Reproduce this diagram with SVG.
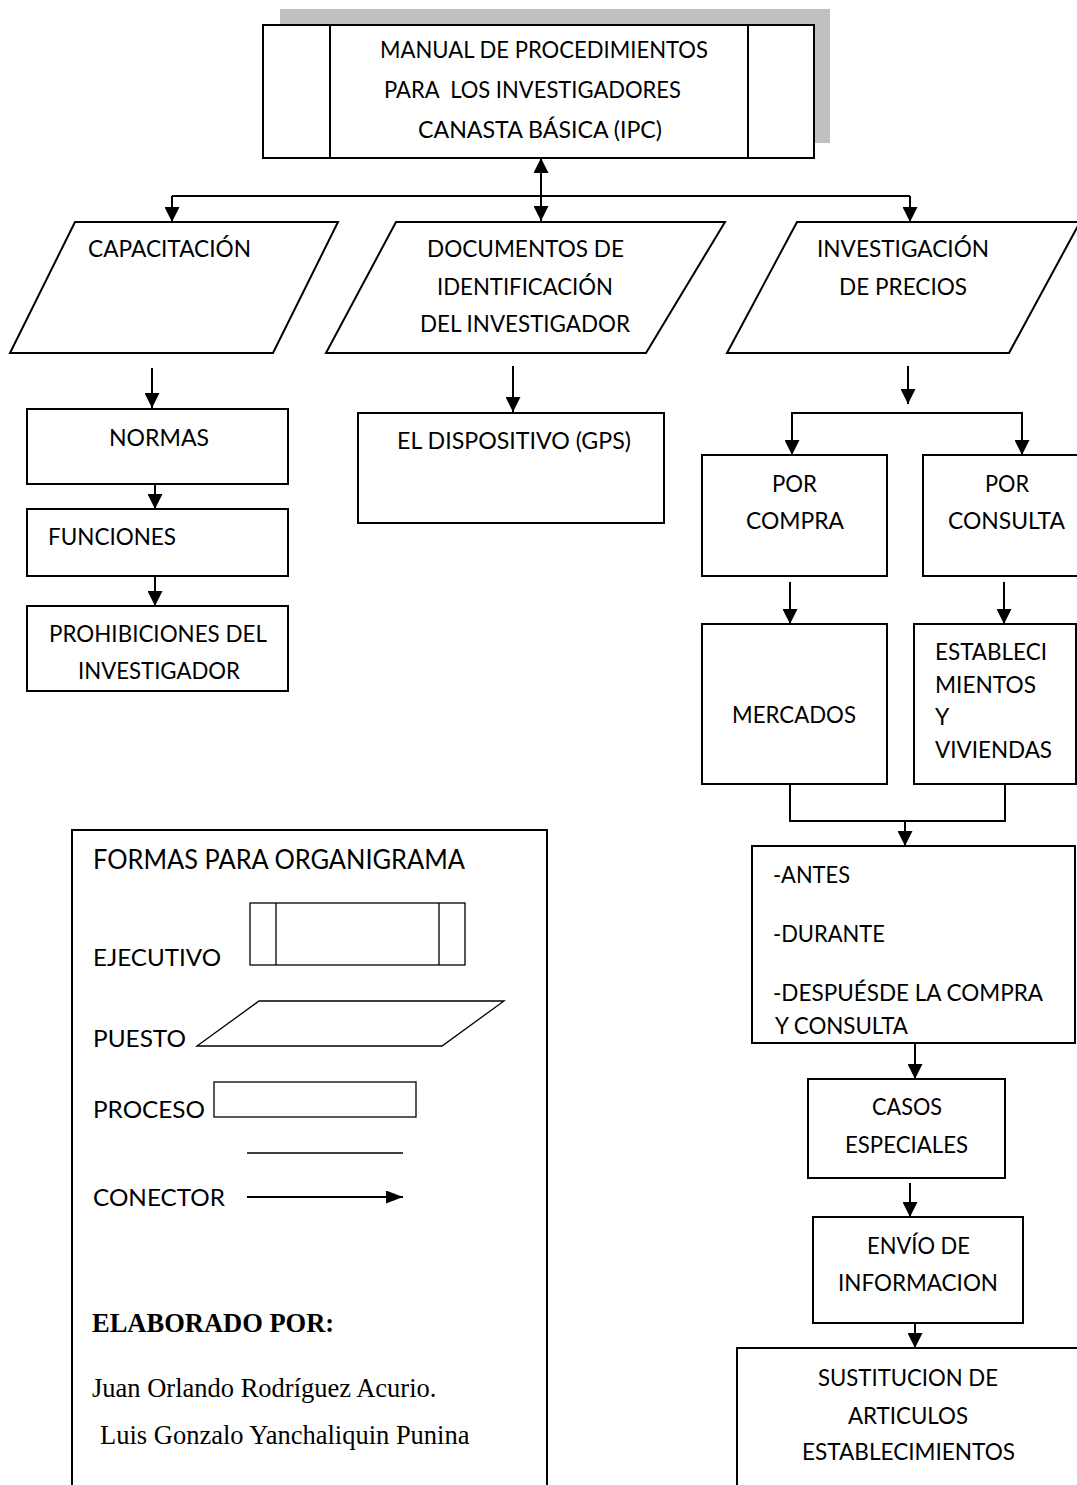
<svg xmlns="http://www.w3.org/2000/svg" width="1077" height="1485" viewBox="0 0 1077 1485">
<style>
.box{fill:#fff;stroke:#000;stroke-width:2}
.thin{fill:#fff;stroke:#000;stroke-width:1.3}
.conn{fill:none;stroke:#000;stroke-width:2}
.t{font-family:Lato,"Open Sans","Liberation Sans",sans-serif;font-size:23px;fill:#000}
.big{font-size:27px}
.s{font-family:"Liberation Serif","Times New Roman",serif;font-size:26.5px;fill:#000}
.b{font-weight:bold}
</style>
<defs>
<marker id="ah" markerUnits="userSpaceOnUse" markerWidth="15" markerHeight="15" refX="15" refY="7.5" orient="auto-start-reverse" viewBox="0 0 15 15">
<path d="M0,0 L15,7.5 L0,15 z" fill="#000"/>
</marker>
<marker id="ahs" markerUnits="userSpaceOnUse" markerWidth="17" markerHeight="13" refX="17" refY="6.5" orient="auto" viewBox="0 0 17 13">
<path d="M0,0 L17,6.5 L0,13 z" fill="#000"/>
</marker>
</defs>
<rect width="1077" height="1485" fill="#fff"/>

<g id="connectors">
<line class="conn" x1="541" y1="158" x2="541" y2="221" marker-start="url(#ah)" marker-end="url(#ah)"/>
<path class="conn" d="M172,196 H910"/>
<path class="conn" d="M172,196 V222" marker-end="url(#ah)"/>
<path class="conn" d="M910,196 V222" marker-end="url(#ah)"/>
<path class="conn" d="M152,368 V408" marker-end="url(#ah)"/>
<path class="conn" d="M513,366 V412" marker-end="url(#ah)"/>
<path class="conn" d="M908,366 V404" marker-end="url(#ah)"/>
<path class="conn" d="M908,413 H792 V455" marker-end="url(#ah)"/>
<path class="conn" d="M908,413 H1022 V455" marker-end="url(#ah)"/>
<path class="conn" d="M155,484 V509" marker-end="url(#ah)"/>
<path class="conn" d="M155,576 V606" marker-end="url(#ah)"/>
<path class="conn" d="M790,582 V624" marker-end="url(#ah)"/>
<path class="conn" d="M1004,582 V624" marker-end="url(#ah)"/>
<path class="conn" d="M790,784 V821 H1005 V784"/>
<path class="conn" d="M905,821 V846" marker-end="url(#ah)"/>
<path class="conn" d="M915,1043 V1079" marker-end="url(#ah)"/>
<path class="conn" d="M910,1183 V1217" marker-end="url(#ah)"/>
<path class="conn" d="M915,1323 V1348" marker-end="url(#ah)"/>
</g>

<g id="manual">
<rect x="280" y="9" width="550" height="134" fill="#c0c0c0"/>
<rect class="box" x="263" y="25" width="551" height="133"/>
<line class="conn" x1="330" y1="25" x2="330" y2="158"/>
<line class="conn" x1="748" y1="25" x2="748" y2="158"/>
<text class="t" x="380" y="58" textLength="328" lengthAdjust="spacingAndGlyphs">MANUAL DE PROCEDIMIENTOS</text>
<text class="t" x="384" y="98" textLength="297" lengthAdjust="spacingAndGlyphs" xml:space="preserve">PARA  LOS INVESTIGADORES</text>
<text class="t" x="418" y="138" textLength="244" lengthAdjust="spacingAndGlyphs">CANASTA BÁSICA (IPC)</text>
</g>

<g id="capacitacion">
<polygon class="box" points="75,222 338,222 273,353 10,353"/>
<text class="t" x="88" y="257" textLength="163" lengthAdjust="spacingAndGlyphs">CAPACITACIÓN</text>
</g>

<g id="documentos">
<polygon class="box" points="396,222 725,222 646,353 326,353"/>
<text class="t" x="427" y="257" textLength="197" lengthAdjust="spacingAndGlyphs">DOCUMENTOS DE</text>
<text class="t" x="437" y="295" textLength="176" lengthAdjust="spacingAndGlyphs">IDENTIFICACIÓN</text>
<text class="t" x="420" y="332" textLength="210" lengthAdjust="spacingAndGlyphs">DEL INVESTIGADOR</text>
</g>

<g id="investigacion">
<polygon class="box" points="797,222 1080,222 1009,353 727,353"/>
<text class="t" x="817" y="257" textLength="172" lengthAdjust="spacingAndGlyphs">INVESTIGACIÓN</text>
<text class="t" x="839" y="295" textLength="128" lengthAdjust="spacingAndGlyphs">DE PRECIOS</text>
</g>

<g id="normas">
<rect class="box" x="27" y="409" width="261" height="75"/>
<text class="t" x="109" y="446" textLength="100" lengthAdjust="spacingAndGlyphs">NORMAS</text>
</g>

<g id="funciones">
<rect class="box" x="27" y="509" width="261" height="67"/>
<text class="t" x="48" y="545" textLength="128" lengthAdjust="spacingAndGlyphs">FUNCIONES</text>
</g>

<g id="prohibiciones">
<rect class="box" x="27" y="606" width="261" height="85"/>
<text class="t" x="49" y="642" textLength="218" lengthAdjust="spacingAndGlyphs">PROHIBICIONES DEL</text>
<text class="t" x="78" y="679" textLength="162" lengthAdjust="spacingAndGlyphs">INVESTIGADOR</text>
</g>

<g id="gps">
<rect class="box" x="358" y="413" width="306" height="110"/>
<text class="t" x="397" y="449" textLength="234" lengthAdjust="spacingAndGlyphs">EL DISPOSITIVO (GPS)</text>
</g>

<g id="por-compra">
<rect class="box" x="702" y="455" width="185" height="121"/>
<text class="t" x="772" y="492" textLength="45" lengthAdjust="spacingAndGlyphs">POR</text>
<text class="t" x="746" y="529" textLength="98" lengthAdjust="spacingAndGlyphs">COMPRA</text>
</g>

<g id="por-consulta">
<rect class="box" x="923" y="455" width="200" height="121"/>
<text class="t" x="985" y="492" textLength="44" lengthAdjust="spacingAndGlyphs">POR</text>
<text class="t" x="948" y="529" textLength="117" lengthAdjust="spacingAndGlyphs">CONSULTA</text>
</g>

<g id="mercados">
<rect class="box" x="702" y="624" width="185" height="160"/>
<text class="t" x="732" y="723" textLength="124" lengthAdjust="spacingAndGlyphs">MERCADOS</text>
</g>

<g id="establecimientos">
<rect class="box" x="914" y="624" width="162" height="160"/>
<text class="t" x="935" y="660" textLength="112" lengthAdjust="spacingAndGlyphs">ESTABLECI</text>
<text class="t" x="935" y="693" textLength="101" lengthAdjust="spacingAndGlyphs">MIENTOS</text>
<text class="t" x="935" y="725">Y</text>
<text class="t" x="935" y="758" textLength="117" lengthAdjust="spacingAndGlyphs">VIVIENDAS</text>
</g>

<g id="antes">
<rect class="box" x="752" y="846" width="323" height="197"/>
<text class="t" x="773" y="883" textLength="77" lengthAdjust="spacingAndGlyphs">-ANTES</text>
<text class="t" x="773" y="942" textLength="112" lengthAdjust="spacingAndGlyphs">-DURANTE</text>
<text class="t" x="773" y="1001" textLength="270" lengthAdjust="spacingAndGlyphs">-DESPUÉSDE LA COMPRA</text>
<text class="t" x="775" y="1034" textLength="133" lengthAdjust="spacingAndGlyphs">Y CONSULTA</text>
</g>

<g id="casos">
<rect class="box" x="808" y="1079" width="197" height="99"/>
<text class="t" x="872" y="1115" textLength="70" lengthAdjust="spacingAndGlyphs">CASOS</text>
<text class="t" x="845" y="1153" textLength="123" lengthAdjust="spacingAndGlyphs">ESPECIALES</text>
</g>

<g id="envio">
<rect class="box" x="813" y="1217" width="210" height="106"/>
<text class="t" x="867" y="1254" textLength="103" lengthAdjust="spacingAndGlyphs">ENVÍO DE</text>
<text class="t" x="838" y="1291" textLength="160" lengthAdjust="spacingAndGlyphs">INFORMACION</text>
</g>

<g id="sustitucion">
<rect class="box" x="737" y="1348" width="400" height="200"/>
<text class="t" x="818" y="1386" textLength="180" lengthAdjust="spacingAndGlyphs">SUSTITUCION DE</text>
<text class="t" x="848" y="1424" textLength="120" lengthAdjust="spacingAndGlyphs">ARTICULOS</text>
<text class="t" x="802" y="1460" textLength="213" lengthAdjust="spacingAndGlyphs">ESTABLECIMIENTOS</text>
</g>

<g id="legend">
<rect class="box" x="72" y="830" width="475" height="700"/>
<text class="t big" x="93" y="869" textLength="372" lengthAdjust="spacingAndGlyphs">FORMAS PARA ORGANIGRAMA</text>
<text class="t" x="93" y="966" textLength="128" lengthAdjust="spacingAndGlyphs">EJECUTIVO</text>
<rect class="thin" x="250" y="903" width="215" height="62"/>
<line class="thin" x1="276" y1="903" x2="276" y2="965"/>
<line class="thin" x1="439" y1="903" x2="439" y2="965"/>
<text class="t" x="93" y="1047" textLength="93" lengthAdjust="spacingAndGlyphs">PUESTO</text>
<polygon class="thin" points="197,1046 259,1001 504,1001 442,1046"/>
<text class="t" x="93" y="1118" textLength="112" lengthAdjust="spacingAndGlyphs">PROCESO</text>
<rect class="thin" x="214" y="1082" width="202" height="35"/>
<line class="thin" x1="247" y1="1153" x2="403" y2="1153"/>
<text class="t" x="93" y="1206" textLength="132" lengthAdjust="spacingAndGlyphs">CONECTOR</text>
<line class="conn" x1="247" y1="1197" x2="403" y2="1197" marker-end="url(#ahs)"/>
<text class="s b" x="92" y="1332">ELABORADO POR:</text>
<text class="s" x="92" y="1397">Juan Orlando Rodríguez Acurio.</text>
<text class="s" x="100" y="1444">Luis Gonzalo Yanchaliquin Punina</text>
</g>
</svg>
